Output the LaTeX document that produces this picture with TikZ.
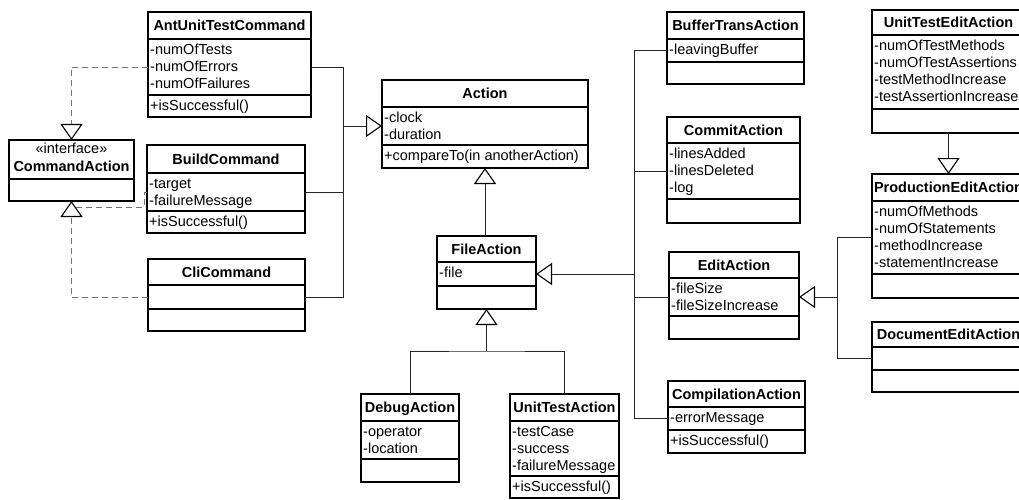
\documentclass[tikz,border=0pt]{standalone}
\usepackage{fontspec}
\setmainfont{Liberation Sans}
\usetikzlibrary{arrows.meta,calc}

\newcommand\umlfont{\fontsize{14.5}{17}\selectfont}

\tikzset{
  comp/.style={draw=black, line width=1.1pt, fill=white, inner sep=0pt, outer sep=0pt, anchor=north west},
  ctitle/.style={anchor=base, inner sep=0pt, font=\umlfont\bfseries},
  crow/.style={anchor=base west, inner sep=0pt, font=\umlfont},
  link/.style={draw=black!85, line width=0.9pt},
  gentip/.style={-{Triangle[open, length=16pt, width=22pt, line width=1.1pt, color=black]}},
  gen/.style={link, gentip},
  realize/.style={draw=black!55, line width=0.9pt, dash pattern=on 6pt off 4pt},
  realizegen/.style={realize, gentip},
}

% class box: id, left, right, top, title line, attribute line, bottom, name
\newcommand\umlclass[8]{%
  \node[comp, minimum width={(#3-#2)*1pt}, minimum height={(#5-#4)*1pt}] (#1-t) at (#2,#4) {};
  \node[comp, minimum width={(#3-#2)*1pt}, minimum height={(#6-#5)*1pt}] (#1-a) at (#2,#5) {};
  \node[comp, minimum width={(#3-#2)*1pt}, minimum height={(#7-#6)*1pt}] (#1-o) at (#2,#6) {};
  \node[ctitle] (#1-name) at ($(#1-t.center)+(0,5.2)$) {#8};
}
% text rows of one compartment
\newcommand\umlrows[2]{%
  \foreach \txt [count=\k] in {#2}{
    \node[crow] (#1-\k) at ($(#1.north west)+(2,{15.5+17*(\k-1)})$) {\txt};
  }
}

\begin{document}
\begin{tikzpicture}[x=1pt, y=-1pt, font=\umlfont]
\useasboundingbox (0,0) rectangle (1019,500);
\clip (0,0) rectangle (1019,500);

% command classes
\umlclass{ant}{148}{311}{12}{39}{95}{117}{AntUnitTestCommand}
\umlrows{ant-a}{-numOfTests,-numOfErrors,-numOfFailures}
\umlrows{ant-o}{+isSuccessful()}

\node[comp, minimum width=125pt, minimum height=39pt] (cmd-t) at (9,140) {};
\node[comp, minimum width=125pt, minimum height=22pt] (cmd-o) at (9,179) {};
\node[crow, anchor=base] (cmd-stereo) at ($(cmd-t.north)+(0,13.5)$) {«interface»};
\node[ctitle] (cmd-name) at ($(cmd-t.north)+(0,31)$) {CommandAction};

\umlclass{build}{147}{305}{145}{173}{211}{233}{BuildCommand}
\umlrows{build-a}{-target,-failureMessage}
\umlrows{build-o}{+isSuccessful()}

\umlclass{cli}{148}{305}{259}{285}{309}{331}{CliCommand}

% core actions
\umlclass{act}{382}{588}{80}{107}{145}{168}{Action}
\umlrows{act-a}{-clock,-duration}
\umlrows{act-o}{+compareTo(in anotherAction)}

\umlclass{file}{437}{536}{236}{262}{286}{309}{FileAction}
\umlrows{file-a}{-file}

\umlclass{dbg}{361}{459}{394}{421}{459}{482}{DebugAction}
\umlrows{dbg-a}{-operator,-location}

\umlclass{utst}{510}{619}{394}{421}{476}{498}{UnitTestAction}
\umlrows{utst-a}{-testCase,-success,-failureMessage}
\umlrows{utst-o}{+isSuccessful()}

% file action subclasses
\umlclass{buf}{667}{804}{12}{39}{62}{84}{BufferTransAction}
\umlrows{buf-a}{-leavingBuffer}

\umlclass{commit}{667}{800}{117}{143}{199}{223}{CommitAction}
\umlrows{commit-a}{-linesAdded,-linesDeleted,-log}

\umlclass{edit}{669}{799}{252}{278}{316}{339}{EditAction}
\umlrows{edit-a}{-fileSize,-fileSizeIncrease}

\umlclass{cpl}{668}{805}{381}{407}{430}{453}{CompilationAction}
\umlrows{cpl-a}{-errorMessage}
\umlrows{cpl-o}{+isSuccessful()}

% edit action subclasses
\umlclass{ute}{872}{1025}{10}{35}{109}{133}{UnitTestEditAction}
\umlrows{ute-a}{-numOfTestMethods,-numOfTestAssertions,-testMethodIncrease,-testAssertionIncrease}

\umlclass{prod}{872}{1025}{174}{201}{274}{298}{ProductionEditAction}
\umlrows{prod-a}{-numOfMethods,-numOfStatements,-methodIncrease,-statementIncrease}

\umlclass{doc}{872}{1025}{322}{347}{370}{392}{DocumentEditAction}

% bus lines
\coordinate (busL) at (343,0);
\coordinate (busM) at (634,0);
\coordinate (busR) at (837,0);
\coordinate (fork) at ($(file-o.south)+(0,42)$);
\coordinate (cmdside) at ($(cmd-o.south)+(4,6)$);

% commands -> Action
\draw[link] (ant-a.east) -- (busL |- ant-a.east) -- (busL |- cli-a.east) -- (cli-a.east);
\draw[link] (build-a.east) -- (busL |- build-a.east);
\draw[gen] (busL |- act-a.west) -- (act-a.west);

% commands realize CommandAction
\draw[realizegen] (ant-a.west) -| (cmd-t.north);
\draw[realizegen] (cli-a.west) -| (cmd-o.south);
\draw[realize] (build-a.west) -- ++(-3,0) |- (cmdside);

% FileAction -> Action
\draw[gen] (act-o.south |- file-t.north) -- (act-o.south);

% DebugAction, UnitTestAction -> FileAction
\draw[link] (dbg-t.north) |- (fork) -| (utst-t.north);
\draw[gen] (fork) -- (file-o.south);

% right-hand subclasses -> FileAction
\draw[link] (buf-a.west) -- (busM |- buf-a.west) -- (busM |- cpl-a.west) -- (cpl-a.west);
\draw[link] (commit-a.west) -- (busM |- commit-a.west);
\draw[link] (edit-a.west) -- (busM |- edit-a.west);
\draw[gen] (busM |- file-a.east) -- (file-a.east);

% edit subclasses -> EditAction
\draw[link] (prod-a.west) -- (busR |- prod-a.west) -- (busR |- doc-a.west) -- (doc-a.west);
\draw[gen] (busR |- edit-a.east) -- (edit-a.east);
\draw[gen] (ute-o.south) -- (prod-t.north);
\end{tikzpicture}
\end{document}
